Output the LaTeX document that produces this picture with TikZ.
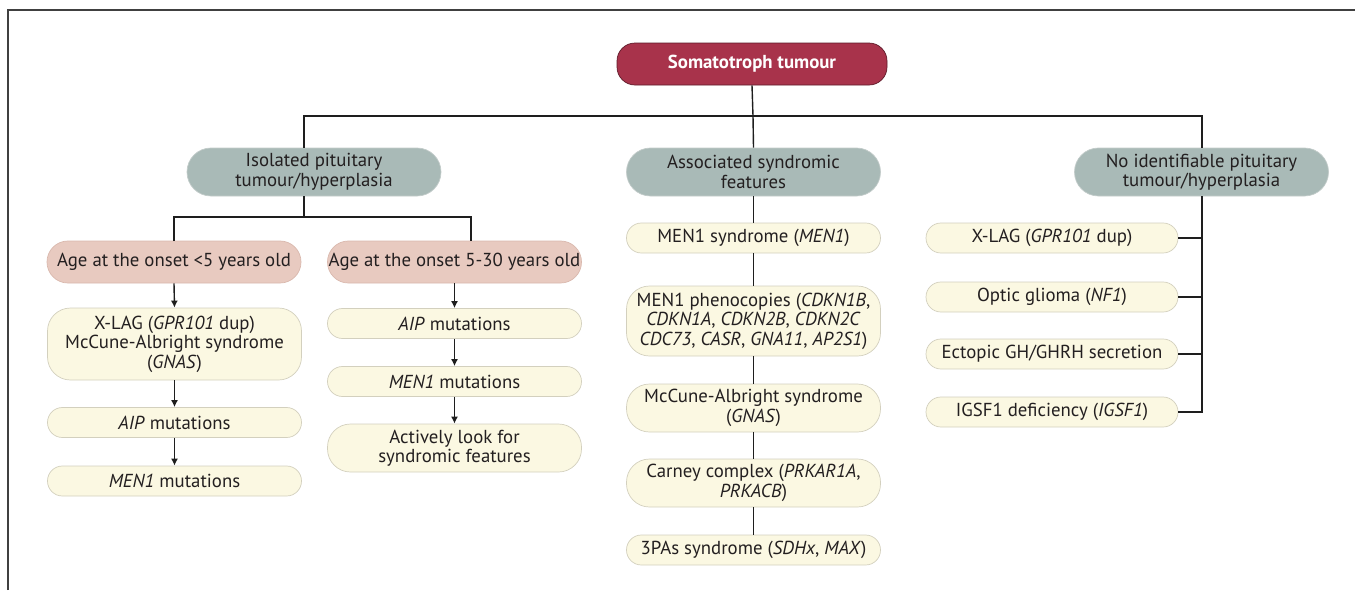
\documentclass[tikz,border=0pt]{standalone}
\usepackage{fontspec}
\setmainfont{PT Sans}
\usetikzlibrary{arrows.meta}
\definecolor{rootc}{HTML}{A8334B}
\definecolor{rootd}{HTML}{5E1A29}
\definecolor{grayc}{HTML}{A9BAB7}
\definecolor{grayd}{HTML}{C3CCCA}
\definecolor{agec}{HTML}{E8CAC0}
\definecolor{aged}{HTML}{D9B8AD}
\definecolor{yc}{HTML}{FBF8E2}
\definecolor{yd}{HTML}{D3D0BE}
\definecolor{txt}{HTML}{231F20}
\definecolor{ln}{HTML}{1E1E1E}
\newcommand{\fsz}{\fontsize{18.8}{19.5}\selectfont}
\tikzset{
  base/.style={draw, line width=0.7pt, align=center, inner sep=0pt, font=\fsz, text=txt},
  rootbox/.style={base, fill=rootc, draw=rootd, text=white, font=\fsz\bfseries,
    minimum width=270pt, minimum height=42pt, rounded corners=18pt},
  graybox/.style={base, fill=grayc, draw=grayd, minimum width=254pt, minimum height=48pt, rounded corners=23.9pt},
  agebox/.style={base, fill=agec, draw=aged, minimum width=254pt, minimum height=42pt, rounded corners=20.9pt},
  ybox/.style={base, fill=yc, draw=yd, minimum width=254pt, minimum height=30pt, rounded corners=14.9pt},
  ybig/.style={ybox, rounded corners=23pt},
  conn/.style={draw=ln, line width=1.4pt},
  arr/.style={conn, -{Latex[length=7pt,width=7pt]}},
  frame/.style={draw=ln!85, line width=1.5pt}
}
\begin{document}
\begin{tikzpicture}[x=1pt,y=-1pt]
\useasboundingbox (0,0) rectangle (1355,590);
\coordinate (fa) at (8,590);
\coordinate (fb) at (8,10);
\coordinate (fc) at (1355,10);
\draw[frame] (fa) -- (fb) -- (fc);

% root
\node[rootbox] (root) at (752,64) {Somatotroph tumour};

% gray level
\node[graybox] (g1) at (314,172) {Isolated pituitary\\tumour/hyperplasia};
\node[graybox] (g2) at (753.5,172) {Associated syndromic\\features};
\node[graybox] (g3) at (1201.5,172) {No identifiable pituitary\\tumour/hyperplasia};

% age level
\node[agebox] (a1) at (174,262) {Age at the onset <5 years old};
\node[agebox] (a2) at (454.5,262) {Age at the onset 5-30 years old};

% left column
\node[ybig, minimum height=72pt] (l1) at (174.5,344) {X-LAG (\textit{GPR101} dup)\\McCune-Albright syndrome\\(\textit{GNAS})};
\node[ybox] (l2) at (174.5,422.5) {\textit{AIP} mutations};
\node[ybox] (l3) at (174.5,481) {\textit{MEN1} mutations};

% second column
\node[ybox] (m1) at (454.5,323.5) {\textit{AIP} mutations};
\node[ybox] (m2) at (454.5,381.5) {\textit{MEN1} mutations};
\node[ybig, minimum height=48pt] (m3) at (454.5,448) {Actively look for\\syndromic features};

% middle column
\node[ybox] (s1) at (753.5,238) {MEN1 syndrome (\textit{MEN1})};
\node[ybig, minimum height=70pt] (s2) at (753.5,321) {MEN1 phenocopies (\textit{CDKN1B},\\\textit{CDKN1A}, \textit{CDKN2B}, \textit{CDKN2C}\\\textit{CDC73}, \textit{CASR}, \textit{GNA11}, \textit{AP2S1})};
\node[ybig, minimum height=48pt] (s3) at (753.5,408) {McCune-Albright syndrome\\(\textit{GNAS})};
\node[ybig, minimum height=48pt] (s4) at (753.5,483) {Carney complex (\textit{PRKAR1A},\\\textit{PRKACB})};
\node[ybox] (s5) at (753.5,550) {3PAs syndrome (\textit{SDHx}, \textit{MAX})};

% right column
\node[ybox, minimum width=252pt] (r1) at (1052,238) {X-LAG (\textit{GPR101} dup)};
\node[ybox, minimum width=252pt] (r2) at (1052,297) {Optic glioma (\textit{NF1})};
\node[ybox, minimum width=252pt] (r3) at (1052,354) {Ectopic GH/GHRH secretion};
\node[ybox, minimum width=252pt] (r4) at (1052,412) {IGSF1 deficiency (\textit{IGSF1})};

% top connectors
\coordinate (bar) at (753,116);
\coordinate (x1) at (304,0);
\coordinate (x3) at (1202,0);
\draw[conn] (root.south) -- (bar);
\draw[conn] (g1.north -| x1) |- (bar) -| (g3.north -| x3);
\draw[conn] (bar) -- (g2.north);

% below g1
\coordinate (b1) at (304,217);
\coordinate (x2) at (471,0);
\draw[conn] (g1.south -| b1) -- (b1);
\draw[conn] (a1.north) |- (b1) -| (a2.north -| x2);

% arrows
\draw[arr] (a1.south) -- (l1.north);
\draw[arr] (l1.south) -- (l2.north);
\draw[arr] (l2.south) -- (l3.north);
\draw[arr] (a2.south) -- (m1.north);
\draw[arr] (m1.south) -- (m2.north);
\draw[arr] (m2.south) -- (m3.north);

% middle column lines
\draw[conn] (g2.south) -- (s1.north);
\draw[conn] (s1.south) -- (s2.north);
\draw[conn] (s2.south) -- (s3.north);
\draw[conn] (s3.south) -- (s4.north);
\draw[conn] (s4.south) -- (s5.north);

% right column lines
\draw[conn] (g3.south -| x3) |- (r4.east);
\draw[conn] (r1.east) -- (r1.east -| x3);
\draw[conn] (r2.east) -- (r2.east -| x3);
\draw[conn] (r3.east) -- (r3.east -| x3);
\end{tikzpicture}
\end{document}
